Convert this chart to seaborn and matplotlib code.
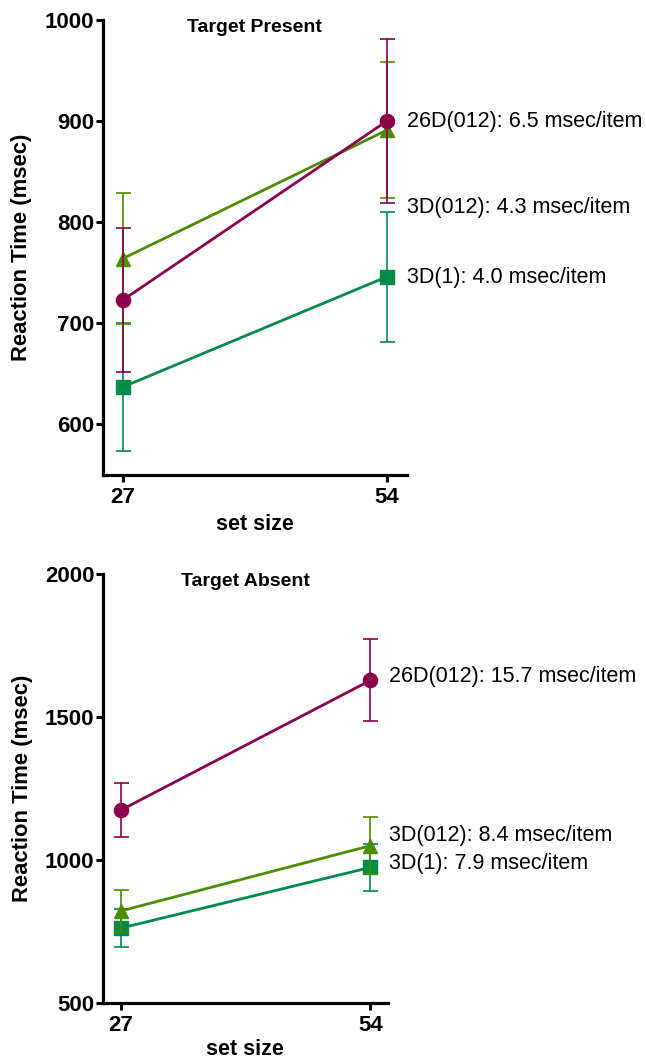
import matplotlib
matplotlib.use('Agg')
import matplotlib.pyplot as plt
import seaborn as sns
import pandas as pd

# ---------------- data ----------------
set_sizes = [27, 54]
conditions = ['3D(1)', '3D(012)', '26D(012)']

present_means = {'3D(1)': [637, 746], '3D(012)': [764, 891], '26D(012)': [723, 900]}
present_errs = {'3D(1)': [63, 64], '3D(012)': [65, 67], '26D(012)': [71, 81]}
present_labels = ['3D(1): 4.0 msec/item', '3D(012): 4.3 msec/item', '26D(012): 6.5 msec/item']

absent_means = {'3D(1)': [762, 974], '3D(012)': [822, 1050], '26D(012)': [1175, 1628]}
absent_errs = {'3D(1)': [65, 82], '3D(012)': [74, 100], '26D(012)': [94, 143]}
absent_labels = ['3D(1): 7.9 msec/item', '3D(012): 8.4 msec/item', '26D(012): 15.7 msec/item']

present_yticks = [600, 700, 800, 900, 1000]
absent_yticks = [500, 1000, 1500, 2000]
xticks = [27, 54]

# ---------------- style ----------------
sns.set_style('ticks')
plt.rcParams['font.family'] = ['Liberation Sans', 'DejaVu Sans']
plt.rcParams['font.weight'] = 'bold'
plt.rcParams['axes.labelweight'] = 'bold'
plt.rcParams['text.color'] = 'black'
plt.rcParams['axes.labelcolor'] = 'black'
plt.rcParams['xtick.color'] = 'black'
plt.rcParams['ytick.color'] = 'black'

colors = {'3D(1)': '#008a4a', '3D(012)': '#4b8c00', '26D(012)': '#8a004a'}
markers = {'3D(1)': 's', '3D(012)': '^', '26D(012)': 'o'}
msizes = {'3D(1)': 9.6, '3D(012)': 9.6, '26D(012)': 10.2}
zbase = {'3D(1)': 2, '3D(012)': 3, '26D(012)': 4}

fig = plt.figure(figsize=(6.46, 10.6), dpi=100)
ax1 = fig.add_axes([0.159, 0.5519, 0.4706, 0.4292])
ax2 = fig.add_axes([0.159, 0.0538, 0.4416, 0.4047])


def draw_panel(ax, means, errs, labels, label_y, yticks, ylim, xlim, title, title_off,
               ylab_x, xlab_y):
    for cond in conditions:
        df = pd.DataFrame({'set size': set_sizes, 'rt': means[cond]})
        ax.errorbar(set_sizes, means[cond], yerr=errs[cond], fmt='none',
                    ecolor=colors[cond], elinewidth=1.2, capsize=5.4, capthick=1.2,
                    zorder=zbase[cond])
        sns.lineplot(data=df, x='set size', y='rt', ax=ax, color=colors[cond],
                     marker=markers[cond], markersize=msizes[cond],
                     markeredgewidth=1.0, markeredgecolor=colors[cond],
                     linewidth=2.0, zorder=zbase[cond] + 0.5)
    ax.set_xlim(*xlim)
    ax.set_ylim(*ylim)
    ax.set_xticks(xticks)
    ax.set_yticks(yticks)
    ax.set_xticklabels([str(t) for t in xticks], fontweight='bold')
    ax.set_yticklabels([str(t) for t in yticks], fontweight='bold')
    sns.despine(ax=ax)
    for s in ['left', 'bottom']:
        ax.spines[s].set_linewidth(2.3)
        ax.spines[s].set_color('black')
    ax.tick_params(axis='both', width=2.2, length=5, direction='out',
                   labelsize=16, colors='black')
    ax.tick_params(axis='y', pad=1)
    ax.tick_params(axis='x', pad=3.5)
    ax.set_xlabel('set size', fontsize=15.5, fontweight='bold', color='black')
    ax.set_ylabel('Reaction Time (msec)', fontsize=15.8, fontweight='bold', color='black')
    ax.yaxis.set_label_coords(ylab_x, 0.5)
    ax.xaxis.set_label_coords(0.5, xlab_y)
    ax.text(0.5, 1 - title_off, title, transform=ax.transAxes, ha='center',
            va='center', fontsize=14, fontweight='bold', color='black')
    for txt, yv in zip(labels, label_y):
        ax.annotate(txt, xy=(1, yv), xycoords=('axes fraction', 'data'),
                    xytext=(0.5, 0), textcoords='offset points', ha='left',
                    va='center', fontsize=15.5, fontweight='normal', color='black',
                    annotation_clip=False)


draw_panel(ax1, present_means, present_errs, present_labels, [745, 815, 900],
           present_yticks, (550, 1000), (24.95, 56.05), 'Target Present', 7 / 455,
           -0.233, -0.086)
draw_panel(ax2, absent_means, absent_errs, absent_labels, [986, 1085, 1640],
           absent_yticks, (500, 2000), (25.0, 55.9), 'Target Absent', 8 / 429,
           -0.245, -0.084)

fig.savefig('out.png', dpi=100)
